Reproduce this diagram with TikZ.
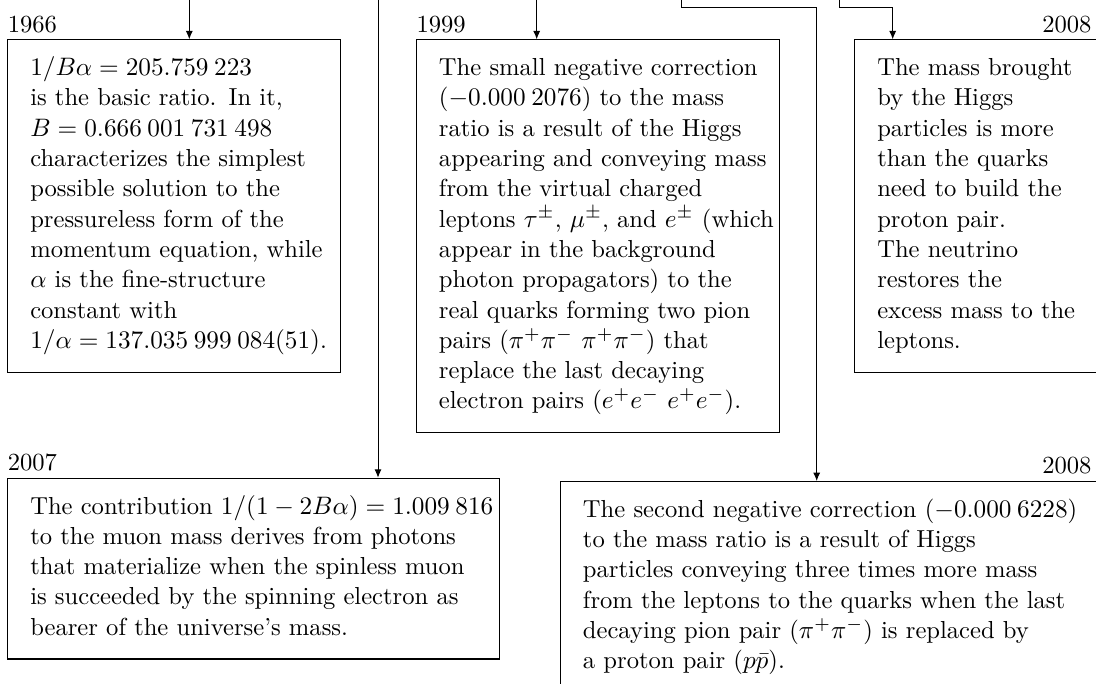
\documentclass[tikz,border=0pt]{standalone}
\usetikzlibrary{arrows.meta}
\begin{document}
\begin{tikzpicture}[x=0.39604pt,y=-0.39604pt,
  every node/.style={font=\fontsize{9.74pt}{12pt}\selectfont},
  box/.style={draw, line width=0.4pt, anchor=north west, align=left,
    inner xsep=8.9pt, inner ysep=5.8pt},
  year/.style={inner sep=0pt},
  arr/.style={line width=0.4pt, -{Latex[length=3.3pt,width=2.8pt]}}]
\useasboundingbox (0,0) rectangle (1096,684);
\clip (0,0) rectangle (1096,684);

\node[box, text width=114.08pt] (b1966) at (7.3,39.3) {\noindent\begin{tabular}{@{}l@{}}
$1/B\alpha = 205.759\:223$\\
is the basic ratio. In it,\\
$B = 0.666\:001\:731\:498$\\
characterizes the simplest\\
possible solution to the\\
pressureless form of the\\
momentum equation, while\\
$\alpha$ is the fine-structure\\
constant with\\
$1/\alpha = 137.035\:999\:084(51)$.
\end{tabular}};

\node[box, text width=125.96pt] (b1999) at (416,39.3) {\noindent\begin{tabular}{@{}l@{}}
The small negative correction\\
($-0.000\:2076$) to the mass\\
ratio is a result of the Higgs\\
appearing and conveying mass\\
from the virtual charged\\
leptons $\tau^\pm$, $\mu^\pm$, and $e^\pm$ (which\\
appear in the background\\
photon propagators) to the\\
real quarks forming two pion\\
pairs ($\pi^+\pi^-\ \pi^+\pi^-$) that\\
replace the last decaying\\
electron pairs ($e^+e^-\ e^+e^-$).
\end{tabular}};

\node[box, text width=78.7pt] (bR) at (854.3,39.3) {\noindent\begin{tabular}{@{}l@{}}
The mass brought\\
by the Higgs\\
particles is more\\
than the quarks\\
need to build the\\
proton pair.\\
The neutrino\\
restores the\\
excess mass to the\\
leptons.
\end{tabular}};

\node[box, text width=177.05pt] (b2007) at (7.3,477.7) {\noindent\begin{tabular}{@{}l@{}}
The contribution $1/(1-2B\alpha) = 1.009\:816$\\
to the muon mass derives from photons\\
that materialize when the spinless muon\\
is succeeded by the spinning electron as\\
bearer of the universe's mass.
\end{tabular}};

\node[box, text width=195.27pt] (bB) at (560,481) {\noindent\begin{tabular}{@{}l@{}}
The second negative correction ($-0.000\:6228$)\\
to the mass ratio is a result of Higgs\\
particles conveying three times more mass\\
from the leptons to the quarks when the last\\
decaying pion pair ($\pi^+\pi^-$) is replaced by\\
a proton pair ($p\bar{p}$).
\end{tabular}};

\node[year, anchor=base west] (y1966) at (7.3,32.3) {1966};
\node[year, anchor=base west] (y1999) at (416,32.3) {1999};
\node[year, anchor=base east] (y2008a) at (1092,32.3) {2008};
\node[year, anchor=base west] (y2007) at (7.3,470.7) {2007};
\node[year, anchor=base east] (y2008b) at (1092,473) {2008};

\coordinate (t1) at (189.3,-5);
\coordinate (t2) at (378,-5);
\coordinate (t3) at (536.7,-5);
\coordinate (t4) at (681,-5);
\coordinate (c4) at (816.7,7.7);
\coordinate (t5) at (839.3,-5);
\coordinate (c5) at (892.7,7.7);

\draw[arr] (t1) -- (t1 |- b1966.north);
\draw[arr] (t2) -- (t2 |- b2007.north);
\draw[arr] (t3) -- (t3 |- b1999.north);
\draw[arr] (t4) |- (c4) -- (c4 |- bB.north);
\draw[arr] (t5) |- (c5) -- (c5 |- bR.north);
\end{tikzpicture}
\end{document}
